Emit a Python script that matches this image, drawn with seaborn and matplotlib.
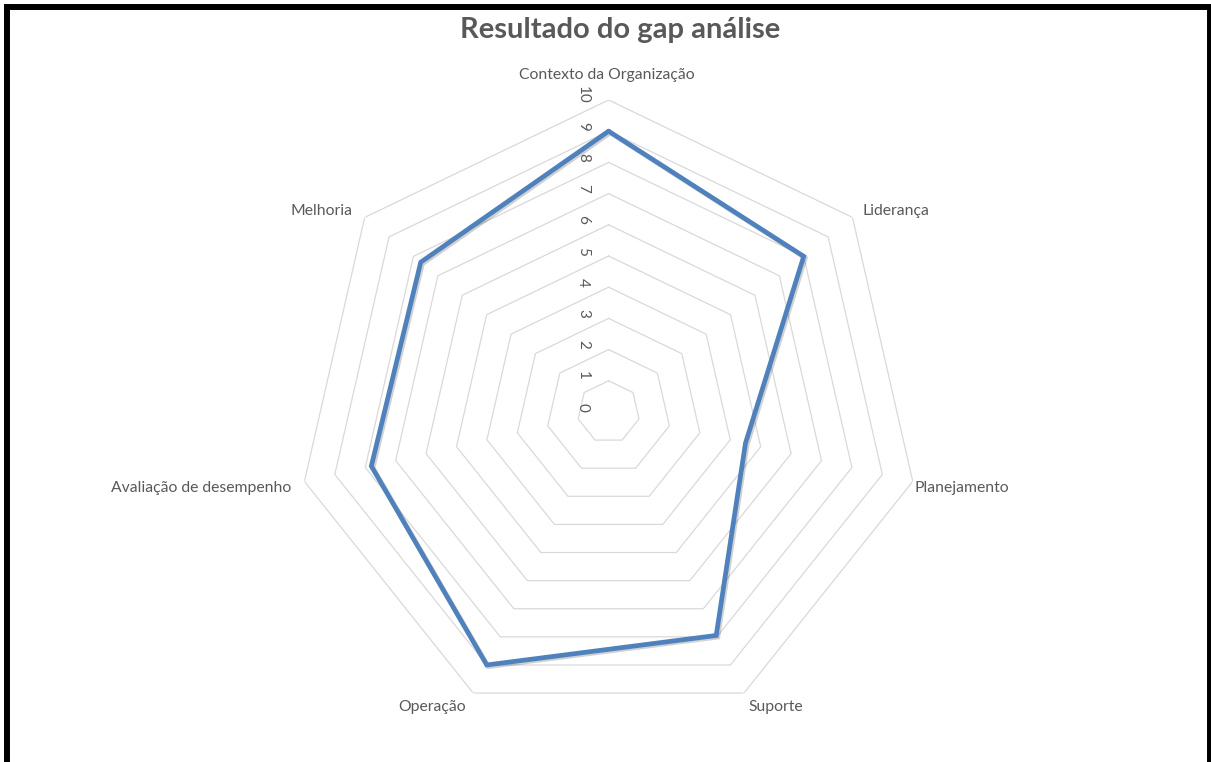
import numpy as np
import matplotlib
matplotlib.use("Agg")
import matplotlib.pyplot as plt
import matplotlib.patheffects as pe
import seaborn as sns
from matplotlib.patches import Rectangle

categories = ["Contexto da Organização", "Liderança", "Planejamento", "Suporte",
              "Operação", "Avaliação de desempenho", "Melhoria"]
values = [9.0, 8.0, 4.5, 7.95, 9.0, 7.8, 7.7]
levels = list(range(0, 11))
title = "Resultado do gap análise"

sns.set_theme(style="white")
plt.rcParams["font.family"] = ["Lato", "DejaVu Sans"]

TXT = "#595959"
LINE = "#4F81BD"
GRID = "#D9D9D9"

fig = plt.figure(figsize=(12.11, 7.62), dpi=100)
ax = fig.add_axes([0.2449, 0.0499, 0.5153, 0.8189], projection="polar")
ax.set_theta_zero_location("N")
ax.set_theta_direction(-1)

n = len(categories)
angles = np.linspace(0, 2 * np.pi, n, endpoint=False)
closed = np.concatenate([angles, angles[:1]])

# heptagon gridlines
for lv in levels[1:]:
    ax.plot(closed, [lv] * (n + 1), color=GRID, lw=0.9, zorder=1)

vals = list(values) + [values[0]]
ax.plot(closed, vals, color=LINE, lw=3.4, solid_joinstyle="miter", zorder=3,
        path_effects=[pe.SimpleLineShadow(offset=(1.2, -1.2), shadow_color="#000000", alpha=0.18),
                      pe.Normal()])

ax.set_ylim(0, 10)
ax.set_yticks([])
ax.set_xticks([])
ax.grid(False)
ax.spines["polar"].set_visible(False)
ax.set_facecolor("none")

# radial labels
for lv in levels:
    ax.annotate(str(lv), xy=(0, lv), xytext=(-18.5, 3.5), textcoords="offset points",
                rotation=-90, ha="center", va="center", fontsize=11, color=TXT)

# category labels
offsets = [(-1.5, 18, "center"), (7, 5, "left"), (1.5, -4.5, "left"), (3, -10, "left"),
           (-5, -10, "right"), (-9.5, -4.5, "right"), (-8.5, 5, "right")]
for ang, cat, (dx, dy, ha) in zip(angles, categories, offsets):
    ax.annotate(cat, xy=(ang, 10), xytext=(dx, dy), textcoords="offset points",
                ha=ha, va="center", fontsize=11.3, color=TXT)

fig.text(0.512, 1 - 30 / 762, title, ha="center", va="center", fontsize=21,
         fontweight="bold", color=TXT)

fig.add_artist(Rectangle((7 / 1211, -0.05), 1202.5 / 1211, 1.05 - 6.5 / 762,
                         transform=fig.transFigure, fill=False, edgecolor="black",
                         lw=4.3, zorder=10))

fig.savefig("out.png", dpi=100, facecolor="white")
